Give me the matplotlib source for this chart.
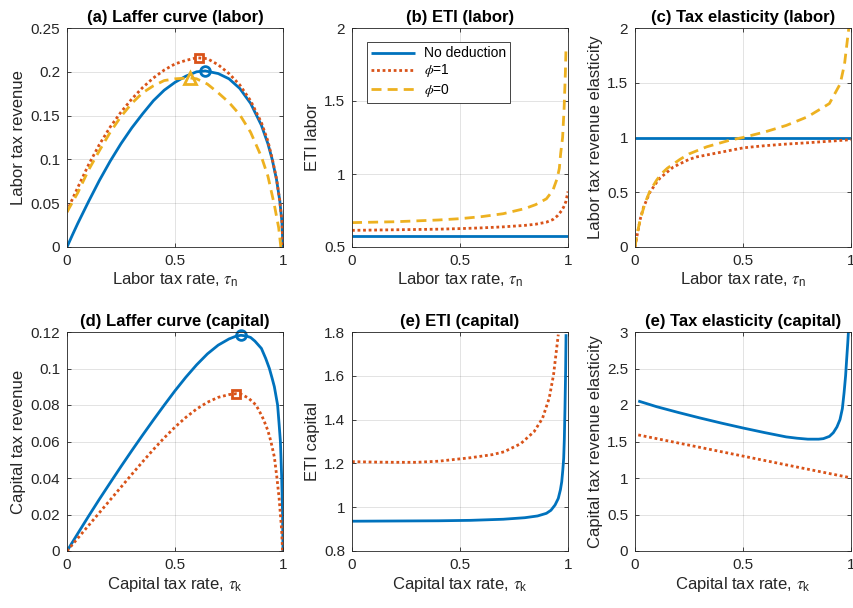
import numpy as np
import matplotlib
matplotlib.use("Agg")
import matplotlib.pyplot as plt
from matplotlib.ticker import FuncFormatter

plt.rcParams['font.family'] = ['Liberation Sans', 'DejaVu Sans']
plt.rcParams['mathtext.fontset'] = 'stix'

BLUE = '#0072BD'
RED = '#D95319'
YELLOW = '#EDB120'
DARK = '#262626'

# (a) Laffer curve, labor
tau_a_none = [0, 0.025, 0.05, 0.1, 0.15, 0.2, 0.25, 0.3, 0.35, 0.4, 0.45, 0.5, 0.55, 0.6, 0.64,
              0.7, 0.75, 0.8, 0.85, 0.9, 0.93, 0.95, 0.97, 0.985, 0.995, 1.0]
rev_a_none = [0, 0.0137, 0.027, 0.052, 0.076, 0.098, 0.118, 0.136, 0.152, 0.167, 0.179, 0.188,
              0.195, 0.2, 0.201, 0.198, 0.192, 0.181, 0.164, 0.139, 0.118, 0.1, 0.077, 0.053,
              0.029, 0.0]
tau_a_phi1 = [0, 0.02, 0.05, 0.1, 0.15, 0.2, 0.25, 0.3, 0.35, 0.4, 0.45, 0.5, 0.55, 0.6, 0.65,
              0.7, 0.75, 0.8, 0.85, 0.9, 0.93, 0.95, 0.97, 0.985, 0.995, 1.0]
rev_a_phi1 = [0.040, 0.052, 0.068, 0.094, 0.117, 0.137, 0.154, 0.169, 0.182, 0.193, 0.202, 0.209,
              0.213, 0.216, 0.215, 0.208, 0.198, 0.185, 0.167, 0.142, 0.121, 0.101, 0.078, 0.053,
              0.029, 0.0]
tau_a_phi0 = [0, 0.025, 0.05, 0.1, 0.15, 0.2, 0.25, 0.3, 0.35, 0.4, 0.45, 0.5, 0.57, 0.6, 0.65,
              0.7, 0.75, 0.8, 0.85, 0.9, 0.93, 0.96, 0.98, 0.99]
rev_a_phi0 = [0.040, 0.051, 0.062, 0.088, 0.110, 0.131, 0.149, 0.164, 0.176, 0.184, 0.190, 0.192,
              0.193, 0.192, 0.186, 0.176, 0.165, 0.151, 0.131, 0.103, 0.081, 0.048, 0.022, 0.0]
peak_a = {'none': (0.64, 0.201), 'phi1': (0.611, 0.216), 'phi0': (0.568, 0.193)}

# (b) ETI, labor
tau_b_none = [0, 0.5, 1.0]
eti_b_none = [0.572, 0.572, 0.572]
tau_b_phi1 = [0, 0.2, 0.4, 0.5, 0.6, 0.7, 0.8, 0.85, 0.9, 0.93, 0.95, 0.97, 0.98, 0.99, 1.0]
eti_b_phi1 = [0.614, 0.618, 0.622, 0.626, 0.631, 0.638, 0.648, 0.656, 0.67, 0.688, 0.712,
              0.748, 0.774, 0.81, 0.88]
tau_b_phi0 = [0, 0.2, 0.4, 0.5, 0.6, 0.7, 0.8, 0.85, 0.9, 0.93, 0.95, 0.96, 0.966, 0.975,
              0.982, 0.988, 0.991]
eti_b_phi0 = [0.667, 0.673, 0.685, 0.694, 0.708, 0.728, 0.763, 0.79, 0.83, 0.888, 0.97, 1.04,
              1.14, 1.25, 1.45, 1.7, 1.88]

# (c) tax revenue elasticity, labor
tau_c_none = [0, 0.5, 1.0]
ela_c_none = [1.0, 1.0, 1.0]
tau_c_phi1 = [0, 0.011, 0.025, 0.039, 0.069, 0.1, 0.116, 0.177, 0.25, 0.286, 0.409, 0.5, 0.532,
              0.6, 0.7, 0.8, 0.9, 1.0]
ela_c_phi1 = [0, 0.12, 0.26, 0.36, 0.50, 0.59, 0.63, 0.73, 0.80, 0.823, 0.87, 0.905, 0.912,
              0.925, 0.94, 0.952, 0.966, 0.98]
tau_c_phi0 = [0, 0.01, 0.023, 0.046, 0.069, 0.1, 0.123, 0.15, 0.208, 0.25, 0.332, 0.44, 0.5,
              0.6, 0.7, 0.8, 0.9, 0.95, 0.97, 0.985, 0.99]
ela_c_phi0 = [0, 0.12, 0.24, 0.40, 0.51, 0.61, 0.67, 0.72, 0.80, 0.85, 0.915, 0.976, 1.0, 1.05,
              1.11, 1.19, 1.31, 1.49, 1.67, 1.92, 2.0]

# (d) Laffer curve, capital
tau_d_none = [0, 0.05, 0.1, 0.15, 0.2, 0.25, 0.3, 0.35, 0.4, 0.45, 0.5, 0.55, 0.6, 0.65, 0.7,
              0.75, 0.78, 0.805, 0.83, 0.85, 0.87, 0.9, 0.92, 0.937, 0.95, 0.96, 0.975, 0.982,
              0.988, 0.994, 0.998, 1.0]
rev_d_none = [0, 0.0096, 0.0191, 0.0284, 0.0374, 0.0463, 0.055, 0.0635, 0.0718, 0.0799, 0.0878,
              0.0952, 0.102, 0.108, 0.1128, 0.1162, 0.1176, 0.1182, 0.1178, 0.117, 0.115, 0.111,
              0.1055, 0.1, 0.0945, 0.09, 0.08, 0.0695, 0.06, 0.04, 0.02, 0]
tau_d_phi1 = [0, 0.05, 0.1, 0.15, 0.2, 0.25, 0.3, 0.35, 0.4, 0.45, 0.5, 0.55, 0.6, 0.65, 0.7,
              0.75, 0.782, 0.81, 0.84, 0.875, 0.9, 0.91, 0.93, 0.944, 0.96, 0.972, 0.982, 0.988,
              0.994, 0.998]
rev_d_phi1 = [0, 0.007, 0.014, 0.021, 0.028, 0.035, 0.042, 0.0489, 0.0556, 0.062, 0.0679,
              0.0732, 0.0778, 0.0815, 0.0842, 0.0857, 0.0862, 0.0857, 0.0838, 0.08, 0.0745,
              0.072, 0.066, 0.06, 0.0515, 0.04, 0.029, 0.02, 0.011, 0]
peak_d = {'none': (0.805, 0.1182), 'phi1': (0.782, 0.0862)}

# (e) ETI, capital
tau_e_none = [0, 0.2, 0.4, 0.549, 0.7, 0.8, 0.859, 0.9, 0.921, 0.94, 0.955, 0.965, 0.971,
              0.976, 0.98, 0.983, 0.986, 0.989, 0.991]
eti_e_none = [0.936, 0.937, 0.938, 0.94, 0.945, 0.952, 0.96, 0.972, 0.986, 1.01, 1.04, 1.08,
              1.116, 1.17, 1.223, 1.31, 1.45, 1.62, 1.79]
tau_e_phi1 = [0, 0.1, 0.2, 0.3, 0.4, 0.549, 0.65, 0.704, 0.781, 0.843, 0.882, 0.913, 0.933,
              0.944, 0.955]
eti_e_phi1 = [1.208, 1.206, 1.205, 1.205, 1.21, 1.226, 1.24, 1.253, 1.29, 1.345, 1.406, 1.498,
              1.604, 1.696, 1.788]

# (f) tax revenue elasticity, capital
tau_f_none = [0.015, 0.1, 0.2, 0.3, 0.4, 0.5, 0.6, 0.7, 0.75, 0.8, 0.85, 0.872, 0.9, 0.918,
              0.935, 0.949, 0.96, 0.968, 0.975, 0.98, 0.985, 0.988]
ela_f_none = [2.055, 1.977, 1.898, 1.823, 1.752, 1.685, 1.622, 1.563, 1.545, 1.532, 1.532,
              1.539, 1.57, 1.62, 1.70, 1.80, 1.95, 2.17, 2.4, 2.63, 2.85, 3.0]
tau_f_phi1 = [0.015, 0.25, 0.5, 0.75, 0.995]
ela_f_phi1 = [1.59, 1.45, 1.30, 1.15, 1.005]

legend_labels = ['No deduction', r'$\phi$=1', r'$\phi$=0']


def style_axes(ax, title, xlabel, ylabel, ylim, yticks):
    ax.set_xlim(0, 1)
    ax.set_ylim(*ylim)
    ax.set_xticks([0, 0.5, 1])
    ax.set_yticks(yticks)
    fmt = FuncFormatter(lambda v, p: f'{v:g}')
    ax.xaxis.set_major_formatter(fmt)
    ax.yaxis.set_major_formatter(fmt)
    ax.grid(True, color='#262626', alpha=0.15, linewidth=0.6)
    ax.set_axisbelow(True)
    ax.tick_params(direction='in', length=3, width=0.6, colors=DARK, labelsize=11,
                   top=True, right=True, pad=5)
    for sp in ax.spines.values():
        sp.set_color(DARK)
        sp.set_linewidth(0.6)
    ax.set_title(title, fontsize=12, fontweight='bold', pad=4)
    ax.set_xlabel(xlabel, fontsize=12, color=DARK, labelpad=2)
    ax.set_ylabel(ylabel, fontsize=12, color=DARK, labelpad=3)


def plot_none(ax, x, y):
    return ax.plot(x, y, color=BLUE, lw=2, solid_capstyle='butt')[0]


def plot_phi1(ax, x, y):
    return ax.plot(x, y, color=RED, lw=2, linestyle=(0, (1, 1)), dash_capstyle='butt')[0]


def plot_phi0(ax, x, y):
    return ax.plot(x, y, color=YELLOW, lw=2, linestyle=(0, (3.6, 2.2)), dash_capstyle='butt')[0]


fig = plt.figure(figsize=(8.54, 6.08), dpi=100)
lefts = [67 / 854, 352 / 854, 635 / 854]
w = 216 / 854
h = 219 / 608
bottoms = [1 - 247 / 608, 1 - 551 / 608]
axs = [[fig.add_axes([l, b, w, h]) for l in lefts] for b in bottoms]

lab_x = r'Labor tax rate, $\tau_{\mathregular{n}}$'
cap_x = r'Capital tax rate, $\tau_{\mathregular{k}}$'

# (a)
ax = axs[0][0]
plot_none(ax, tau_a_none, rev_a_none)
plot_phi1(ax, tau_a_phi1, rev_a_phi1)
plot_phi0(ax, tau_a_phi0, rev_a_phi0)
ax.plot(*peak_a['none'], 'o', mfc='none', mec=BLUE, mew=2, ms=7)
ax.plot(*peak_a['phi1'], 's', mfc='none', mec=RED, mew=2, ms=6)
ax.plot(*peak_a['phi0'], '^', mfc='none', mec=YELLOW, mew=2, ms=8)
style_axes(ax, '(a) Laffer curve (labor)', lab_x, 'Labor tax revenue',
           (0, 0.25), [0, 0.05, 0.1, 0.15, 0.2, 0.25])

# (b)
ax = axs[0][1]
h1 = plot_none(ax, tau_b_none, eti_b_none)
h2 = plot_phi1(ax, tau_b_phi1, eti_b_phi1)
h3 = plot_phi0(ax, tau_b_phi0, eti_b_phi0)
style_axes(ax, '(b) ETI (labor)', lab_x, 'ETI labor', (0.5, 2), [0.5, 1, 1.5, 2])
leg = ax.legend([h1, h2, h3], legend_labels, loc='upper left',
                bbox_to_anchor=(0.068, 0.935), fontsize=10, fancybox=False,
                handlelength=3.2, handletextpad=0.6, borderpad=0.3, labelspacing=0.15,
                borderaxespad=0, framealpha=1)
leg.get_frame().set_edgecolor(DARK)
leg.get_frame().set_linewidth(0.6)

# (c)
ax = axs[0][2]
plot_none(ax, tau_c_none, ela_c_none)
plot_phi1(ax, tau_c_phi1, ela_c_phi1)
plot_phi0(ax, tau_c_phi0, ela_c_phi0)
style_axes(ax, '(c) Tax elasticity (labor)', lab_x, 'Labor tax revenue elasticity',
           (0, 2), [0, 0.5, 1, 1.5, 2])

# (d)
ax = axs[1][0]
plot_none(ax, tau_d_none, rev_d_none)
plot_phi1(ax, tau_d_phi1, rev_d_phi1)
ax.plot(*peak_d['none'], 'o', mfc='none', mec=BLUE, mew=2, ms=7, clip_on=False)
ax.plot(*peak_d['phi1'], 's', mfc='none', mec=RED, mew=2, ms=6)
style_axes(ax, '(d) Laffer curve (capital)', cap_x, 'Capital tax revenue',
           (0, 0.12), [0, 0.02, 0.04, 0.06, 0.08, 0.1, 0.12])

# (e)
ax = axs[1][1]
plot_none(ax, tau_e_none, eti_e_none)
plot_phi1(ax, tau_e_phi1, eti_e_phi1)
style_axes(ax, '(e) ETI (capital)', cap_x, 'ETI capital',
           (0.8, 1.8), [0.8, 1, 1.2, 1.4, 1.6, 1.8])

# (f)
ax = axs[1][2]
plot_none(ax, tau_f_none, ela_f_none)
plot_phi1(ax, tau_f_phi1, ela_f_phi1)
style_axes(ax, '(e) Tax elasticity (capital)', cap_x, 'Capital tax revenue elasticity',
           (0, 3), [0, 0.5, 1, 1.5, 2, 2.5, 3])

fig.savefig('out.png', dpi=100)
